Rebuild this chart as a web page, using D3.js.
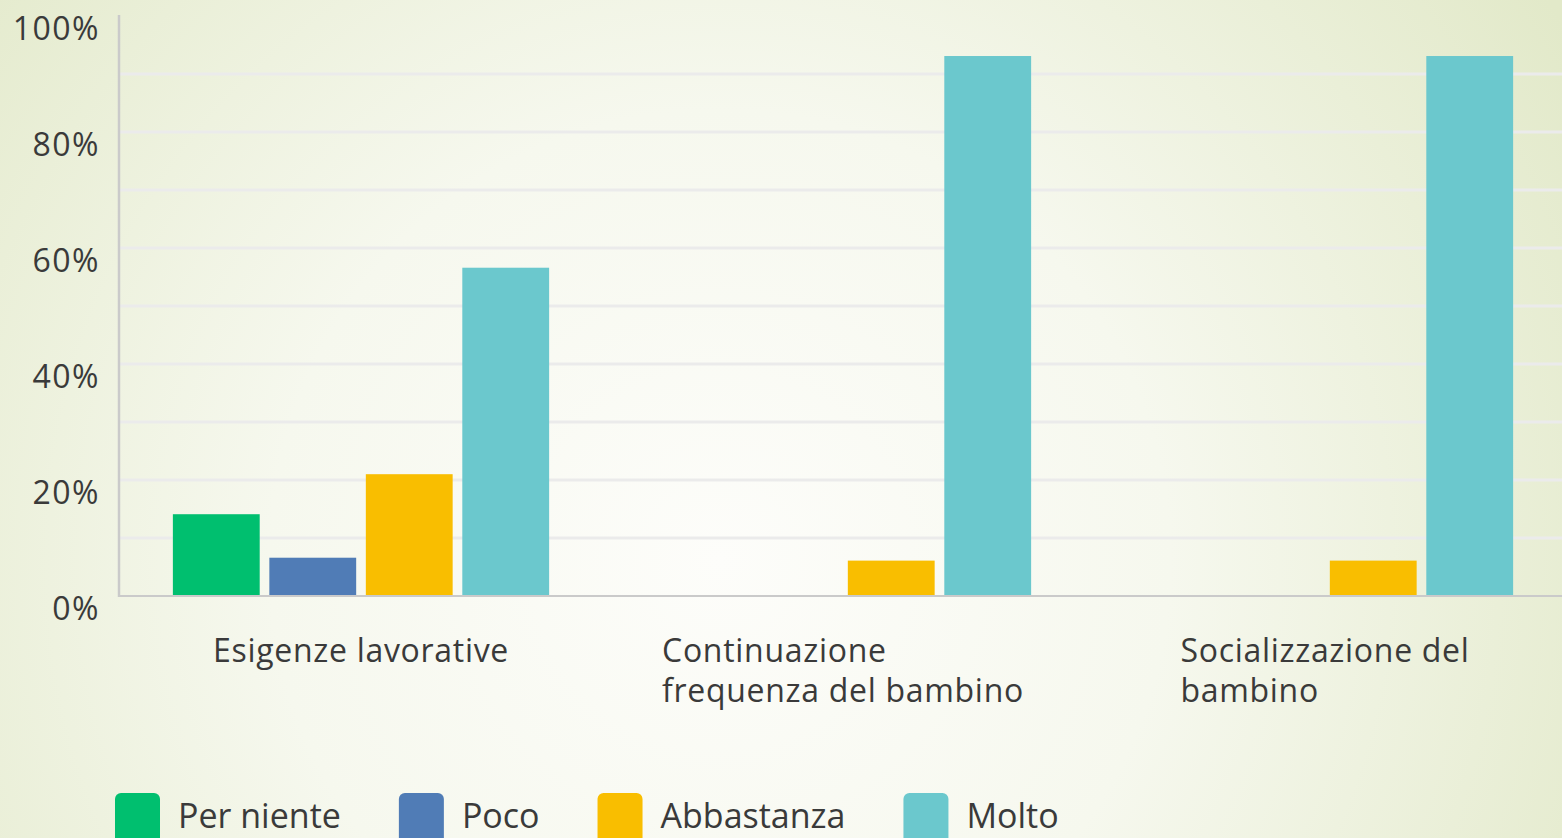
<!DOCTYPE html>
<html>
<head>
<meta charset="utf-8">
<script src="https://cdn.jsdelivr.net/npm/d3@7"></script>
<style>
  html, body { margin: 0; padding: 0; overflow: hidden; }
  svg { display: block; }
  text { font-family: "Open Sans", "Noto Sans", sans-serif; fill: #3a3a3a; }
</style>
</head>
<body>
<div id="chart"></div>
<script>
// categories (x axis labels, already split in lines)
const categories = ["Esigenze lavorative", "Continuazione frequenza del bambino", "Socializzazione del bambino"];
const categoryLines = [["Esigenze lavorative"], ["Continuazione", "frequenza del bambino"], ["Socializzazione del", "bambino"]];

// series
const seriesNames = ["Per niente", "Poco", "Abbastanza", "Molto"];
const seriesColors = ["#00bf6f", "#507cb6", "#f9be00", "#6bc8cd"];

// values in percent, one per category
const perNiente = [14.1, 0, 0];
const poco = [6.6, 0, 0];
const abbastanza = [21.0, 6.1, 6.1];
const molto = [56.6, 93.1, 93.1];

const yTicks = [0, 20, 40, 60, 80, 100];
const yGrid = [10, 20, 30, 40, 50, 60, 70, 80, 90];

const W = 1562, H = 838;
const margin = {top: 16, left: 119};

const seriesValues = [perNiente, poco, abbastanza, molto];
const data = categories.map((c, i) => ({
  cat: c, lines: categoryLines[i],
  vals: seriesNames.map((s, j) => ({key: s, value: seriesValues[j][i], color: seriesColors[j]}))
}));

const svg = d3.select("#chart").append("svg")
  .attr("width", W).attr("height", H);

// background gradient
const defs = svg.append("defs");
const grad = defs.append("radialGradient")
  .attr("id", "bg")
  .attr("gradientUnits", "userSpaceOnUse")
  .attr("cx", 720).attr("cy", 560).attr("r", 1000);
grad.append("stop").attr("offset", "0%").attr("stop-color", "#fdfdfa");
grad.append("stop").attr("offset", "45%").attr("stop-color", "#f6f8ee");
grad.append("stop").attr("offset", "100%").attr("stop-color", "#e2e9c9");
svg.append("rect").attr("width", W).attr("height", H).attr("fill", "url(#bg)");

const x0 = d3.scaleBand()
  .domain(categories)
  .range([120, 1566])
  .padding(0);

const x1 = d3.scaleBand()
  .domain(seriesNames)
  .range([0, x0.bandwidth()])
  .paddingInner(0.10)
  .paddingOuter(0.548);

const y = d3.scaleLinear()
  .domain([0, 100])
  .range([596, 16]);

// gridlines
svg.append("g")
  .selectAll("line")
  .data(yGrid)
  .join("line")
    .attr("x1", margin.left).attr("x2", W)
    .attr("y1", d => y(d)).attr("y2", d => y(d))
    .attr("stroke", "#ebebeb")
    .attr("stroke-width", 3);

// bars
const groups = svg.append("g")
  .selectAll("g")
  .data(data)
  .join("g")
    .attr("transform", d => `translate(${x0(d.cat)},0)`);

groups.selectAll("rect")
  .data(d => d.vals.filter(v => v.value > 0))
  .join("rect")
    .attr("x", d => x1(d.key))
    .attr("width", x1.bandwidth())
    .attr("y", d => y(d.value))
    .attr("height", d => y(0) - y(d.value))
    .attr("fill", d => d.color);

// axis lines
svg.append("line")
  .attr("x1", margin.left).attr("x2", margin.left)
  .attr("y1", 15).attr("y2", y(0) + 1)
  .attr("stroke", "#cacaca").attr("stroke-width", 2.5);
svg.append("line")
  .attr("x1", margin.left).attr("x2", W)
  .attr("y1", y(0)).attr("y2", y(0))
  .attr("stroke", "#cacaca").attr("stroke-width", 2);

// y tick labels (sit a bit below their line, like the original)
svg.append("g")
  .selectAll("text")
  .data(yTicks)
  .join("text")
    .attr("x", 100)
    .attr("y", d => y(d) + 24)
    .attr("text-anchor", "end")
    .attr("font-size", "32px")
    .attr("letter-spacing", "1.5px")
    .text(d => d + "%");

// x labels, block centred under each group, lines left aligned
const xl = svg.append("g")
  .selectAll("text")
  .data(data)
  .join("text")
    .attr("font-size", "32px")
    .attr("letter-spacing", "0.7px");
xl.each(function(d) {
  const t = d3.select(this);
  d.lines.forEach((ln, i) => {
    t.append("tspan").attr("y", 662 + i * 40).text(ln);
  });
  let maxW = 0;
  t.selectAll("tspan").each(function() { maxW = Math.max(maxW, this.getComputedTextLength()); });
  const left = x0(d.cat) + x0.bandwidth() / 2 - maxW / 2;
  t.selectAll("tspan").attr("x", left);
});

// legend
const legend = svg.append("g");
let lx = 115;
seriesNames.forEach((s, i) => {
  legend.append("rect")
    .attr("x", lx).attr("y", 793)
    .attr("width", 45).attr("height", 60)
    .attr("rx", 6)
    .attr("fill", seriesColors[i]);
  const t = legend.append("text")
    .attr("x", lx + 63).attr("y", 828)
    .attr("font-size", "34px")
    .text(s);
  lx += 63 + t.node().getComputedTextLength() + 58;
});
</script>
</body>
</html>
